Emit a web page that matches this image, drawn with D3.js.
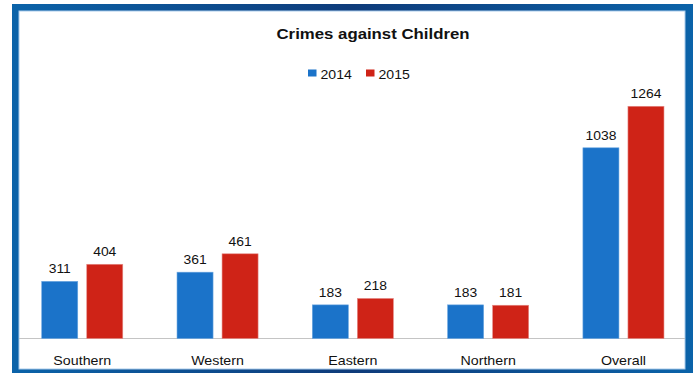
<!DOCTYPE html>
<html>
<head>
<meta charset="utf-8">
<script src="https://cdn.jsdelivr.net/npm/d3@7"></script>
<style>
  html, body { margin: 0; padding: 0; background: #fff; }
  svg { display: block; }
  text { font-family: "Liberation Sans", Arial, sans-serif; fill: #111; }
</style>
</head>
<body>
<svg id="chart" width="693" height="373"></svg>
<script>
const title = "Crimes against Children";
const categories = ["Southern", "Western", "Eastern", "Northern", "Overall"];
const years = ["2014", "2015"];
const values2014 = [311, 361, 183, 183, 1038];
const values2015 = [404, 461, 218, 181, 1264];
const colors = ["#1b73c9", "#cf2317"];

const series = [values2014, values2015];
const data = categories.map((c, i) => ({ cat: c, vals: years.map((y, j) => ({ year: y, value: series[j][i], j })) }));

const svg = d3.select("#chart");
const W = 693, H = 373;
const stretch = 1.13;

// frame
const defs = svg.append("defs");
const g = defs.append("linearGradient").attr("id", "frameGrad").attr("x1", "0%").attr("x2", "100%").attr("y1", "0%").attr("y2", "0%");
g.append("stop").attr("offset", "0%").attr("stop-color", "#0b63a9");
g.append("stop").attr("offset", "50%").attr("stop-color", "#0e3b7a");
g.append("stop").attr("offset", "100%").attr("stop-color", "#0b63a9");

svg.append("rect").attr("x", 0).attr("y", 0).attr("width", W).attr("height", H).attr("fill", "#fff");
svg.append("rect").attr("x", 12).attr("y", 4).attr("width", W - 12).attr("height", H - 4).attr("fill", "url(#frameGrad)");
svg.append("rect").attr("x", 19).attr("y", 11).attr("width", 666).attr("height", 358)
  .attr("fill", "#fff").attr("stroke", "#a9cbeb").attr("stroke-width", 1);

// scales
const x0 = d3.scaleBand().domain(categories).range([14.6, 691.1]).paddingInner(0.401).paddingOuter(0.2005);
const x1 = d3.scaleBand().domain(years).range([0, x0.bandwidth()]).paddingInner(0.2).paddingOuter(0);
const y = d3.scaleLinear().domain([0, 1400]).range([338.5, 81.3]);
const color = d3.scaleOrdinal().domain(years).range(colors);

// axis line
svg.append("line").attr("x1", 19).attr("x2", 685).attr("y1", 338.5).attr("y2", 338.5)
  .attr("stroke", "#c4c4c4").attr("stroke-width", 1);

// bars
const groups = svg.append("g").selectAll("g").data(data).join("g")
  .attr("transform", d => `translate(${x0(d.cat)},0)`);

groups.selectAll("rect").data(d => d.vals).join("rect")
  .attr("x", d => x1(d.year))
  .attr("y", d => y(d.value))
  .attr("width", x1.bandwidth())
  .attr("height", d => y(0) - y(d.value))
  .attr("fill", d => color(d.year))
  .attr("stroke", d => d.j === 0 ? "#6aa6e0" : "#e58a86")
  .attr("stroke-width", 0.6);

groups.selectAll("text.val").data(d => d.vals).join("text")
  .attr("class", "val")
  .attr("text-anchor", "middle")
  .attr("font-size", 12.3)
  .attr("transform", d => `translate(${x1(d.year) + x1.bandwidth() / 2},${y(d.value) - 8}) scale(${stretch},1)`)
  .text(d => d.value);

// category labels
svg.append("g").selectAll("text").data(categories).join("text")
  .attr("text-anchor", "middle")
  .attr("font-size", 12.6)
  .attr("transform", d => `translate(${x0(d) + x0.bandwidth() / 2},365) scale(${stretch},1)`)
  .text(d => d);

// title
svg.append("text")
  .attr("text-anchor", "middle")
  .attr("font-size", 15)
  .attr("font-weight", "bold")
  .attr("transform", `translate(373,39) scale(1.12,1)`)
  .text(title);

// legend
const legendX = [308, 366];
const leg = svg.append("g").selectAll("g").data(years).join("g")
  .attr("transform", (d, i) => `translate(${legendX[i]},0)`);
leg.append("rect").attr("x", 0).attr("y", 69.5).attr("width", 8.5).attr("height", 7).attr("fill", d => color(d));
leg.append("text").attr("font-size", 12.5)
  .attr("transform", `translate(12.5,79) scale(${stretch},1)`)
  .text(d => d);
</script>
</body>
</html>
